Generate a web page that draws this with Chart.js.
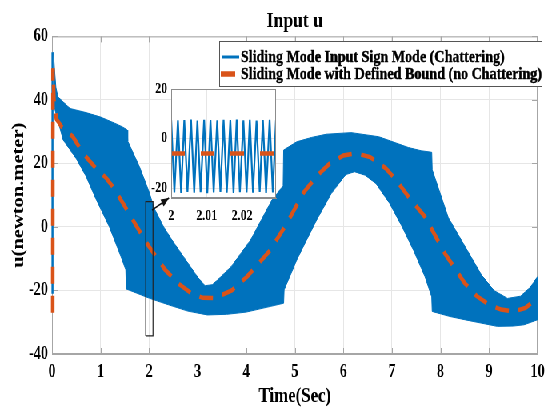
<!DOCTYPE html>
<html>
<head>
<meta charset="utf-8">
<title>Input u</title>
<script src="https://cdn.jsdelivr.net/npm/chart.js@4.4.1/dist/chart.umd.min.js"></script>
<style>
  html, body { margin: 0; padding: 0; background: #fff; overflow: hidden; }
  /* the reference figure is squeezed horizontally, so draw wide and squash */
  #wrap { position: relative; width: 689px; height: 407px; transform: scaleX(0.8); transform-origin: 0 0; }
  #main { position: absolute; left: 0; top: 0; }
  #inset { position: absolute; left: 160px; top: 75px; }
</style>
</head>
<body>
<div id="wrap">
  <canvas id="main" width="689" height="407"></canvas>
  <canvas id="inset" width="195" height="155"></canvas>
</div>
<script>
// chattering band (sign mode), upper and lower envelopes
const upperT = [0.03, 0.05, 0.08, 0.12, 0.2, 0.37, 0.7, 1.0, 1.3, 1.45, 1.55, 1.56, 1.8, 2.0, 2.1, 2.3, 2.47, 2.8, 3.0, 3.15, 3.3, 3.41, 3.69, 4.09, 4.53, 4.76, 4.77, 5.04, 5.35, 5.65, 6.16, 6.73, 7.34, 7.6, 7.82, 7.83, 8.16, 8.5, 8.84, 9.1, 9.38, 9.65, 9.85, 10];
const upperU = [55, 50, 44, 41, 39.8, 37.3, 36, 34.6, 32.6, 31.5, 30.5, 27, 19, 11, 6, 0, -4.1, -11.4, -15.8, -18.5, -18.2, -16.7, -12.5, -4.1, 8.5, 13, 24.2, 26.8, 28.2, 29.2, 29.7, 28.4, 25, 24, 23.5, 18, 3, -6, -15, -20, -22.5, -21.8, -19, -15.6];
const lowerT = [0.03, 0.06, 0.1, 0.23, 0.5, 0.7, 0.9, 1.18, 1.42, 1.52, 1.53, 2.0, 2.4, 2.8, 3.2, 3.6, 4.0, 4.5, 4.77, 4.78, 5.04, 5.21, 5.45, 5.75, 6.05, 6.23, 6.45, 6.67, 6.95, 7.21, 7.45, 7.68, 7.82, 7.83, 8.2, 8.5, 9.17, 9.5, 9.72, 10];
const lowerU = [40, 37, 34.7, 27.4, 21.5, 16, 9, 0.1, -9.3, -13.5, -19.5, -22.4, -24.5, -26.5, -27.7, -27.5, -26.8, -25, -24, -19.8, -10.4, -5.1, 2.2, 10.5, 16.5, 17.4, 16.3, 13.7, 7.5, 0.1, -7.5, -15.6, -22, -26.6, -28.2, -29.2, -31.3, -31.2, -30.8, -29.2];
// initial transient at t = 0
const spikeT = [0.01, 0.01];
const spikeU = [-21, 55];

// defined bound controller (no chattering)
const boundT = [0.015, 0.02, 0.04, 0.09, 0.2, 0.43, 0.64, 0.9, 1.11, 1.25, 1.5, 1.75, 2.0, 2.33, 2.6, 2.87, 3.1, 3.35, 3.7, 4.02, 4.5, 4.85, 5.18, 5.45, 5.72, 6.0, 6.26, 6.55, 6.87, 7.1, 7.34, 7.68, 8.09, 8.5, 8.75, 9.0, 9.25, 9.51, 9.75, 10];
const boundU = [-27, 50, 40, 34, 31.5, 28.4, 23.2, 18.5, 15.5, 12.7, 6.5, 0, -6.2, -13.5, -17.8, -20.9, -22.3, -22.4, -20, -15.6, -7.2, 1.5, 10.8, 16, 20, 22.5, 23.2, 22, 18.5, 14.5, 9.5, 3.2, -8.3, -17.7, -21.8, -24.5, -26, -26.6, -25.5, -22.4];

// zoom window and arrow to the inset
const zoomBoxT = [1.93, 2.08, 2.08, 1.93, 1.93];
const zoomBoxU = [-34.3, -34.3, 8, 8, -34.3];
const arrowT = [2.06, 2.41];
const arrowU = [5.3, 9.1];

// inset: chattering between t = 2 and 2.03
const insetT = [2.0000, 2.0009, 2.0019, 2.0028, 2.0037, 2.0046, 2.0056, 2.0065, 2.0074, 2.0083, 2.0093, 2.0102, 2.0111, 2.0120, 2.0130, 2.0139, 2.0148, 2.0157, 2.0167, 2.0176, 2.0185, 2.0194, 2.0204, 2.0213, 2.0222, 2.0231, 2.0241, 2.0250, 2.0259, 2.0268, 2.0278, 2.0287, 2.0296];
const insetU = [7.6, -21.8, 7.4, -22.0, 7.5, -21.6, 7.7, -21.9, 7.3, -21.7, 7.6, -22.1, 7.5, -21.8, 7.4, -21.6, 7.6, -21.9, 7.5, -22.0, 7.7, -21.7, 7.4, -21.8, 7.6, -21.9, 7.3, -21.6, 7.5, -22.0, 7.6, -21.8, 7.5];
const insetBoundT = [2.0, 2.0296];
const insetBoundU = [-6, -6];

// tick labels
const xTicks = [0, 1, 2, 3, 4, 5, 6, 7, 8, 9, 10];
const yTicks = [-40, -20, 0, 20, 40, 60];
const insetXTicks = [2, 2.01, 2.02];
const insetYTicks = [-20, 0, 20];

const seriesNames = ['Sliding Mode Input Sign Mode (Chattering)', 'Sliding Mode with Defined Bound (no Chattering)'];

const blue = '#0072BD';
const orange = '#D95319';
const axisGray = '#a6a6a6';
const gridGray = '#e6e6e6';
const serif = "'Liberation Serif', 'Times New Roman', serif";

Chart.defaults.font.family = serif;
Chart.defaults.font.weight = 'bold';
Chart.defaults.color = '#000';

function pts(t, u) {
  return t.map((x, i) => ({ x: x, y: u[i] }));
}

// box on with inward ticks (under the data), then legend and arrow head on top
const mainDecor = {
  id: 'mainDecor',
  beforeDatasetsDraw(chart) {
    const { ctx, chartArea: a, scales } = chart;
    ctx.save();
    ctx.strokeStyle = axisGray;
    ctx.lineWidth = 1;
    ctx.strokeRect(a.left + 0.5, a.top + 0.5, a.right - a.left - 1, a.bottom - a.top - 1);
    ctx.beginPath();
    xTicks.forEach(v => {
      const px = Math.round(scales.x.getPixelForValue(v)) + 0.5;
      ctx.moveTo(px, a.bottom); ctx.lineTo(px, a.bottom - 6);
      ctx.moveTo(px, a.top); ctx.lineTo(px, a.top + 6);
    });
    yTicks.forEach(v => {
      const py = Math.round(scales.y.getPixelForValue(v)) + 0.5;
      ctx.moveTo(a.left, py); ctx.lineTo(a.left + 7, py);
      ctx.moveTo(a.right, py); ctx.lineTo(a.right - 7, py);
    });
    ctx.stroke();
    ctx.restore();
  },
  afterDatasetsDraw(chart) {
    const { ctx, scales } = chart;
    ctx.save();
    // arrow head at the inset corner
    const x0 = scales.x.getPixelForValue(arrowT[0]), y0 = scales.y.getPixelForValue(arrowU[0]);
    const x1 = scales.x.getPixelForValue(arrowT[1]), y1 = scales.y.getPixelForValue(arrowU[1]);
    const ang = Math.atan2(y1 - y0, x1 - x0);
    ctx.fillStyle = '#111';
    ctx.beginPath();
    ctx.moveTo(x1, y1);
    ctx.lineTo(x1 - 10 * Math.cos(ang) + 4 * Math.sin(ang), y1 - 10 * Math.sin(ang) - 4 * Math.cos(ang));
    ctx.lineTo(x1 - 10 * Math.cos(ang) - 4 * Math.sin(ang), y1 - 10 * Math.sin(ang) + 4 * Math.cos(ang));
    ctx.closePath();
    ctx.fill();

    // legend
    ctx.fillStyle = '#fff';
    ctx.fillRect(274, 41, 404, 45);
    ctx.strokeStyle = '#555';
    ctx.lineWidth = 1;
    ctx.strokeRect(274.5, 41.5, 403, 45);
    ctx.lineCap = 'butt';
    ctx.strokeStyle = blue;
    ctx.lineWidth = 3;
    ctx.beginPath(); ctx.moveTo(277, 57); ctx.lineTo(299, 57); ctx.stroke();
    ctx.strokeStyle = orange;
    ctx.lineWidth = 5.5;
    ctx.beginPath(); ctx.moveTo(276, 74); ctx.lineTo(294, 74); ctx.stroke();
    ctx.fillStyle = '#000';
    ctx.strokeStyle = '#000';
    ctx.lineWidth = 0.45;
    ctx.font = 'bold 17.6px ' + serif;
    ctx.textBaseline = 'middle';
    ctx.textAlign = 'left';
    seriesNames.forEach((name, i) => {
      ctx.fillText(name, 301, 57 + 17 * i);
      ctx.strokeText(name, 301, 57 + 17 * i);
    });
    ctx.restore();
  }
};

// lower "order" is drawn later (on top)
new Chart(document.getElementById('main'), {
  type: 'line',
  data: {
    datasets: [
      { label: seriesNames[0], data: pts(upperT, upperU), borderColor: blue, backgroundColor: blue, borderWidth: 1, fill: '+1', pointRadius: 0, order: 10 },
      { data: pts(lowerT, lowerU), borderColor: blue, borderWidth: 1, fill: false, pointRadius: 0, order: 11 },
      { data: pts(spikeT, spikeU), borderColor: blue, borderWidth: 2.5, fill: false, pointRadius: 0, order: 9, clip: 6 },
      { label: seriesNames[1], data: pts(boundT, boundU), borderColor: orange, borderWidth: 4.5, borderDash: [17, 12], fill: false, pointRadius: 0, order: 3, clip: 6 },
      { data: pts(zoomBoxT, zoomBoxU), borderColor: '#222', borderWidth: 1.2, fill: false, pointRadius: 0, order: 2 },
      { data: pts(arrowT, arrowU), borderColor: '#111', borderWidth: 1.6, fill: false, pointRadius: 0, order: 1 }
    ]
  },
  options: {
    responsive: false,
    animation: false,
    devicePixelRatio: 1,
    layout: { padding: { left: 0, right: 9, top: 0, bottom: 0 } },
    plugins: {
      legend: { display: false },
      tooltip: { enabled: false },
      title: { display: true, fullSize: false, text: 'Input u', color: '#000', font: { size: 22, weight: 'bold' }, padding: { top: 8, bottom: 2 } }
    },
    scales: {
      x: {
        type: 'linear', min: 0, max: 10,
        afterBuildTicks: s => { s.ticks = xTicks.map(v => ({ value: v })); },
        afterFit: s => { s.height = 53; },
        ticks: { font: { size: 18 }, padding: 8, maxRotation: 0, autoSkip: false },
        grid: { color: gridGray, drawTicks: false },
        border: { color: axisGray },
        title: { display: true, text: 'Time(Sec)', font: { size: 21, weight: 'bold' }, padding: { top: 0, bottom: -2 } }
      },
      y: {
        type: 'linear', min: -40, max: 60,
        afterBuildTicks: s => { s.ticks = yTicks.map(v => ({ value: v })); },
        afterFit: s => { s.width = 65; },
        ticks: { font: { size: 18 }, padding: 5 },
        grid: { color: gridGray, drawTicks: false },
        border: { color: axisGray },
        title: { display: true, text: 'u(newton.meter)', font: { size: 20.5, weight: 'bold' }, padding: { top: 11, bottom: 0 } }
      }
    }
  },
  plugins: [mainDecor]
});

// white axes background and frame for the zoomed view
const insetFrame = {
  id: 'insetFrame',
  beforeDraw(chart) {
    const { ctx, chartArea: a } = chart;
    ctx.save();
    ctx.fillStyle = '#fff';
    ctx.fillRect(a.left, a.top, a.right - a.left, a.bottom - a.top);
    ctx.restore();
  },
  afterDatasetsDraw(chart) {
    const { ctx, chartArea: a } = chart;
    ctx.save();
    ctx.strokeStyle = '#8c8c8c';
    ctx.lineWidth = 1;
    ctx.strokeRect(a.left + 0.5, a.top + 0.5, a.right - a.left - 1, a.bottom - a.top - 1);
    ctx.restore();
  }
};

new Chart(document.getElementById('inset'), {
  type: 'line',
  data: {
    datasets: [
      { data: pts(insetT, insetU), borderColor: blue, borderWidth: 2.2, fill: false, pointRadius: 0, order: 2 },
      { data: pts(insetBoundT, insetBoundU), borderColor: orange, borderWidth: 4.5, borderDash: [17, 20], fill: false, pointRadius: 0, order: 1 }
    ]
  },
  options: {
    responsive: false,
    animation: false,
    devicePixelRatio: 1,
    layout: { padding: { left: 0, right: 10, top: 14, bottom: 0 } },
    plugins: { legend: { display: false }, tooltip: { enabled: false } },
    scales: {
      x: {
        type: 'linear', min: 2, max: 2.0296,
        afterBuildTicks: s => { s.ticks = insetXTicks.map(v => ({ value: v })); },
        afterFit: s => { s.height = 32; },
        ticks: { font: { size: 15 }, padding: 9, maxRotation: 0, autoSkip: false, callback: v => String(+v.toFixed(4)) },
        grid: { color: gridGray, drawTicks: false },
        border: { color: '#8c8c8c' }
      },
      y: {
        type: 'linear', min: -24, max: 20,
        afterBuildTicks: s => { s.ticks = insetYTicks.map(v => ({ value: v })); },
        afterFit: s => { s.width = 54; },
        ticks: { font: { size: 15 }, padding: 5 },
        grid: { color: gridGray, drawTicks: false },
        border: { color: '#8c8c8c' }
      }
    }
  },
  plugins: [insetFrame]
});
</script>
</body>
</html>
